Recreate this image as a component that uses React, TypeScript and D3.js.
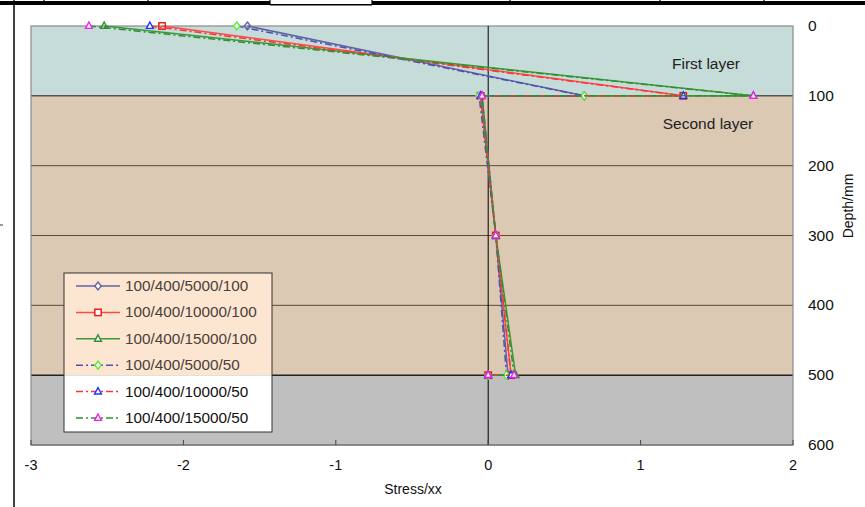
import React from "react";
import * as d3 from "d3";

const depths = [0, 100, 100, 300, 500, 500];
const seriesNames = [
  "100/400/5000/100",
  "100/400/10000/100",
  "100/400/15000/100",
  "100/400/5000/50",
  "100/400/10000/50",
  "100/400/15000/50",
];
const s1 = [-1.58, 0.63, -0.04, 0.05, 0.13, 0.0];
const s2 = [-2.14, 1.28, -0.05, 0.05, 0.15, 0.0];
const s3 = [-2.52, 1.74, -0.05, 0.05, 0.18, 0.0];
const s4 = [-1.65, 0.63, -0.06, 0.05, 0.12, 0.0];
const s5 = [-2.22, 1.28, -0.05, 0.05, 0.15, 0.0];
const s6 = [-2.62, 1.74, -0.04, 0.05, 0.17, 0.0];
const seriesValues = [s1, s2, s3, s4, s5, s6];
const xTicks = [-3, -2, -1, 0, 1, 2];
const yTicks = [0, 100, 200, 300, 400, 500, 600];
const layers = [
  { from: 0, to: 100, color: "#c5dcd9" },
  { from: 100, to: 500, color: "#dbc9b3" },
  { from: 500, to: 600, color: "#c0bfbf" },
];

const styles = [
  { line: "#6262a8", dash: "", marker: "diamond", mColor: "#6262a8", fill: "none" },
  { line: "#ff4a4a", dash: "", marker: "square", mColor: "#ee1111", fill: "none" },
  { line: "#3a9a3a", dash: "", marker: "triangle", mColor: "#2f8f2f", fill: "none" },
  { line: "#5050b0", dash: "7,3,2,3", marker: "diamond", mColor: "#55ee33", fill: "#ffffff" },
  { line: "#ff3333", dash: "7,3,2,3", marker: "triangle", mColor: "#2233ff", fill: "#ffffff" },
  { line: "#2f8f2f", dash: "7,3,2,3", marker: "triangle", mColor: "#ee22ee", fill: "#ffffff" },
];

const FONT = "'Liberation Sans', Arial, sans-serif";

function Marker({ type, x, y, color, fill, size }: any) {
  const s = size;
  if (type === "diamond") {
    return (
      <path
        d={`M${x},${y - s}L${x + s * 0.8},${y}L${x},${y + s}L${x - s * 0.8},${y}Z`}
        fill={fill}
        stroke={color}
        strokeWidth={1.4}
      />
    );
  }
  if (type === "square") {
    return (
      <rect x={x - s * 0.8} y={y - s * 0.8} width={s * 1.6} height={s * 1.6} fill={fill} stroke={color} strokeWidth={1.4} />
    );
  }
  return (
    <path
      d={`M${x},${y - s}L${x + s * 0.85},${y + s * 0.6}L${x - s * 0.85},${y + s * 0.6}Z`}
      fill={fill}
      stroke={color}
      strokeWidth={1.4}
    />
  );
}

export default function App() {
  const W = 865;
  const H = 507;
  const left = 31;
  const right = 793;
  const top = 26;
  const bottom = 445;
  const x = d3.scaleLinear().domain([-3, 2]).range([left, right]);
  const y = d3.scaleLinear().domain([0, 600]).range([top, bottom]);

  const line = d3
    .line<[number, number]>()
    .x((d) => x(d[0]))
    .y((d) => y(d[1]));

  const legX = 64;
  const legY = 273;
  const legW = 208;
  const legH = 159;
  const rowH = 26.4;

  return (
    <svg width={W} height={H} style={{ position: "absolute", left: 0, top: 0, background: "#fff" }} fontFamily={FONT}>
      <rect x={0} y={0} width={W} height={H} fill="#fff" />
      {/* frame pieces */}
      <rect x={0} y={1} width={270} height={4} fill="#000" />
      <rect x={270} y={4} width={102} height={1.5} fill="#000" />
      <rect x={372} y={1} width={493} height={4} fill="#000" />
      {[14, 44, 148, 270, 372, 510, 660, 764].map((d) => (
        <line key={d} x1={d} x2={d} y1={0} y2={5} stroke="#000" strokeWidth={1.2} />
      ))}
      <line x1={14} x2={14} y1={5} y2={H} stroke="#000" strokeWidth={1.5} />
      <line x1={0} x2={3} y1={225} y2={225} stroke="#333" strokeWidth={1} />

      {/* layers */}
      {layers.map((l, i) => (
        <rect key={i} x={left} y={y(l.from)} width={right - left} height={y(l.to) - y(l.from)} fill={l.color} />
      ))}
      {/* grid */}
      {[200, 300, 400].map((d) => (
        <line key={d} x1={left} x2={right} y1={y(d)} y2={y(d)} stroke="#5e4a30" strokeWidth={1} />
      ))}
      <line x1={left} x2={right} y1={y(100)} y2={y(100)} stroke="#555" strokeWidth={1.5} />
      <line x1={left} x2={right} y1={y(500)} y2={y(500)} stroke="#222" strokeWidth={1.5} />
      <rect x={left} y={top} width={right - left} height={bottom - top} fill="none" stroke="#8a8a8a" strokeWidth={1.2} />
      <line x1={x(0)} x2={x(0)} y1={top} y2={bottom} stroke="#000" strokeWidth={1} />
      <line x1={left} x2={right} y1={bottom} y2={bottom} stroke="#666" strokeWidth={1.2} />
      {xTicks.map((t) => (
        <line key={t} x1={x(t)} x2={x(t)} y1={bottom} y2={bottom - 5} stroke="#444" strokeWidth={1} />
      ))}

      {/* layer labels */}
      <text x={706} y={69} fontSize={15.5} fill="#222" textAnchor="middle">First layer</text>
      <text x={708} y={129} fontSize={15.5} fill="#222" textAnchor="middle">Second layer</text>

      {/* series */}
      {seriesValues.map((vals, i) => {
        const pts: [number, number][] = vals.map((v, j) => [v, depths[j]]);
        const st = styles[i];
        return (
          <g key={i}>
            <path d={line(pts) || ""} fill="none" stroke={st.line} strokeWidth={1.5} strokeDasharray={st.dash} />
            {pts.map((p, j) => (
              <Marker key={j} type={st.marker} x={x(p[0])} y={y(p[1])} color={st.mColor} fill={st.fill} size={4} />
            ))}
          </g>
        );
      })}

      {/* legend */}
      <rect x={legX} y={legY} width={legW} height={y(500) - legY} fill="#fce6d2" />
      <rect x={legX} y={y(500)} width={legW} height={legY + legH - y(500)} fill="#ffffff" />
      <rect x={legX} y={legY} width={legW} height={legH} fill="none" stroke="#333" strokeWidth={1} />
      {seriesNames.map((name, i) => {
        const st = styles[i];
        const cy = legY + 13 + i * rowH;
        return (
          <g key={name}>
            <line x1={76} x2={120} y1={cy} y2={cy} stroke={st.line} strokeWidth={1.5} strokeDasharray={st.dash} />
            <Marker type={st.marker} x={98} y={cy} color={st.mColor} fill={st.fill === "none" ? "#fff" : st.fill} size={4} />
            <text x={125} y={cy + 5} fontSize={15.3} fill={i < 4 ? "#4a4038" : "#111"}>{name}</text>
          </g>
        );
      })}

      {/* axes labels */}
      {xTicks.map((t) => (
        <text key={t} x={x(t)} y={470} fontSize={14.5} textAnchor="middle" fill="#111">{t}</text>
      ))}
      {yTicks.map((t) => (
        <text key={t} x={808} y={y(t) + 5} fontSize={15.5} fill="#111">{t}</text>
      ))}
      <text x={413} y={494} fontSize={14} textAnchor="middle" fill="#111">Stress/xx</text>
      <text transform={`translate(853,206) rotate(-90)`} fontSize={14} textAnchor="middle" fill="#111">Depth/mm</text>
    </svg>
  );
}
